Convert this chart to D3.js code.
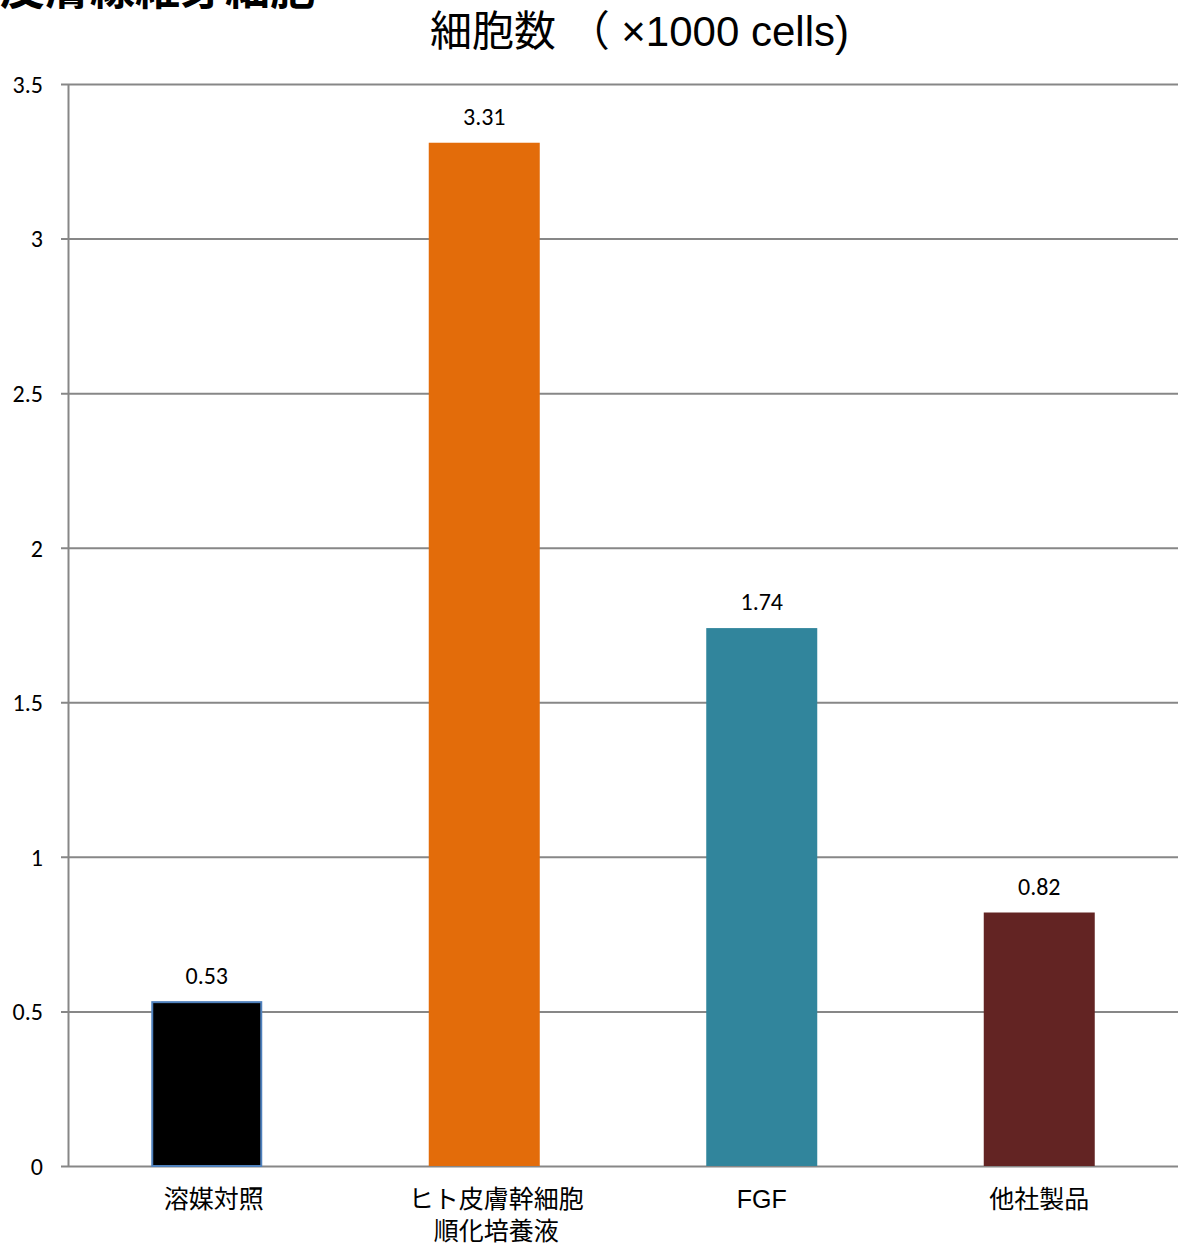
<!DOCTYPE html>
<html>
<head>
<meta charset="utf-8">
<script src="https://cdn.jsdelivr.net/npm/d3@7"></script>
<style>
  html, body { margin: 0; padding: 0; background: #fff; }
  svg { display: block; }
</style>
</head>
<body>
<svg id="chart" width="1183" height="1245"></svg>
<script>
// ---- data ----
const categories = ["溶媒対照", "ヒト皮膚幹細胞\n順化培養液", "FGF", "他社製品"];
const values = [0.53, 3.31, 1.74, 0.82];
const valueLabels = ["0.53", "3.31", "1.74", "0.82"];
const yTicks = [0, 0.5, 1, 1.5, 2, 2.5, 3, 3.5];
const yTickLabels = ["0", "0.5", "1", "1.5", "2", "2.5", "3", "3.5"];
const titleText = "細胞数 （ ×1000 cells)";
const headerText = "皮膚線維芽細胞";

// ---- styles / layout ----
const barFill = ["#000000", "#E36C0A", "#31859C", "#632423"];
const barStroke = ["#4F81BD", "none", "none", "none"];
const labelShift = [7, 12, 0, 0];
const plotLeft = 68, plotRight = 1178, plotTop = 84, plotBottom = 1166;
const gridColor = "#878787";
const numFont = "Carlito, Lato, 'Open Sans', sans-serif";
const cjkFont = "'Liberation Sans', Arial, 'Noto Sans CJK JP', sans-serif";

const svg = d3.select("#chart");

const x = d3.scaleBand()
  .domain(categories)
  .range([plotLeft, plotRight])
  .paddingInner(0.6)
  .paddingOuter(0.3);

const y = d3.scaleLinear().domain([0, 3.5]).range([plotBottom, plotTop]);

// gridlines (extend slightly left of the axis like tick marks)
const grid = svg.append("g")
  .attr("transform", `translate(${plotLeft - 7},0)`)
  .call(d3.axisLeft(y).tickValues(yTicks).tickSize(-(plotRight - plotLeft + 7)).tickFormat(""));
grid.select(".domain").remove();
grid.selectAll(".tick line").attr("stroke", gridColor).attr("stroke-width", 2);

// y axis line + labels
const yAxis = svg.append("g")
  .attr("transform", `translate(${plotLeft},0)`)
  .call(d3.axisLeft(y).tickValues(yTicks).tickSize(0).tickPadding(25)
    .tickFormat((d, i) => yTickLabels[i]));
yAxis.select(".domain").attr("stroke", gridColor).attr("stroke-width", 2);
yAxis.selectAll(".tick text")
  .attr("font-family", numFont)
  .attr("font-size", 24)
  .attr("fill", "#000")
  .attr("dy", "0.35em");

// bars
svg.append("g").selectAll("rect")
  .data(values)
  .join("rect")
  .attr("x", (d, i) => x(categories[i]) + (barStroke[i] === "none" ? 0 : 1))
  .attr("y", d => y(d))
  .attr("width", (d, i) => x.bandwidth() - (barStroke[i] === "none" ? 0 : 2))
  .attr("height", d => y(0) - y(d))
  .attr("fill", (d, i) => barFill[i])
  .attr("stroke", (d, i) => barStroke[i])
  .attr("stroke-width", 2);

// value labels
svg.append("g").selectAll("text")
  .data(values)
  .join("text")
  .attr("x", (d, i) => x(categories[i]) + x.bandwidth() / 2)
  .attr("y", d => y(d) - 18)
  .attr("text-anchor", "middle")
  .attr("font-family", numFont)
  .attr("font-size", 24)
  .attr("fill", "#000")
  .text((d, i) => valueLabels[i]);

// category labels
const cat = svg.append("g").selectAll("text")
  .data(categories)
  .join("text")
  .attr("x", (d, i) => x(d) + x.bandwidth() / 2 + labelShift[i])
  .attr("y", 1208)
  .attr("text-anchor", "middle")
  .attr("font-family", cjkFont)
  .attr("font-size", 25)
  .attr("fill", "#000");
cat.each(function(d) {
  const lines = d.split("\n");
  const cx = d3.select(this).attr("x");
  d3.select(this).selectAll("tspan")
    .data(lines)
    .join("tspan")
    .attr("x", cx)
    .attr("dy", (l, j) => j === 0 ? 0 : 32)
    .text(l => l);
});

// title
svg.append("text")
  .attr("x", 430)
  .attr("y", 46)
  .attr("font-family", cjkFont)
  .attr("font-size", 42)
  .attr("fill", "#000")
  .text(titleText);

// cropped header at top-left
svg.append("text")
  .attr("x", 0)
  .attr("y", 5)
  .attr("font-family", "'Noto Sans CJK JP', sans-serif")
  .attr("font-weight", "bold")
  .attr("font-size", 45)
  .attr("fill", "#000")
  .text(headerText);
</script>
</body>
</html>
